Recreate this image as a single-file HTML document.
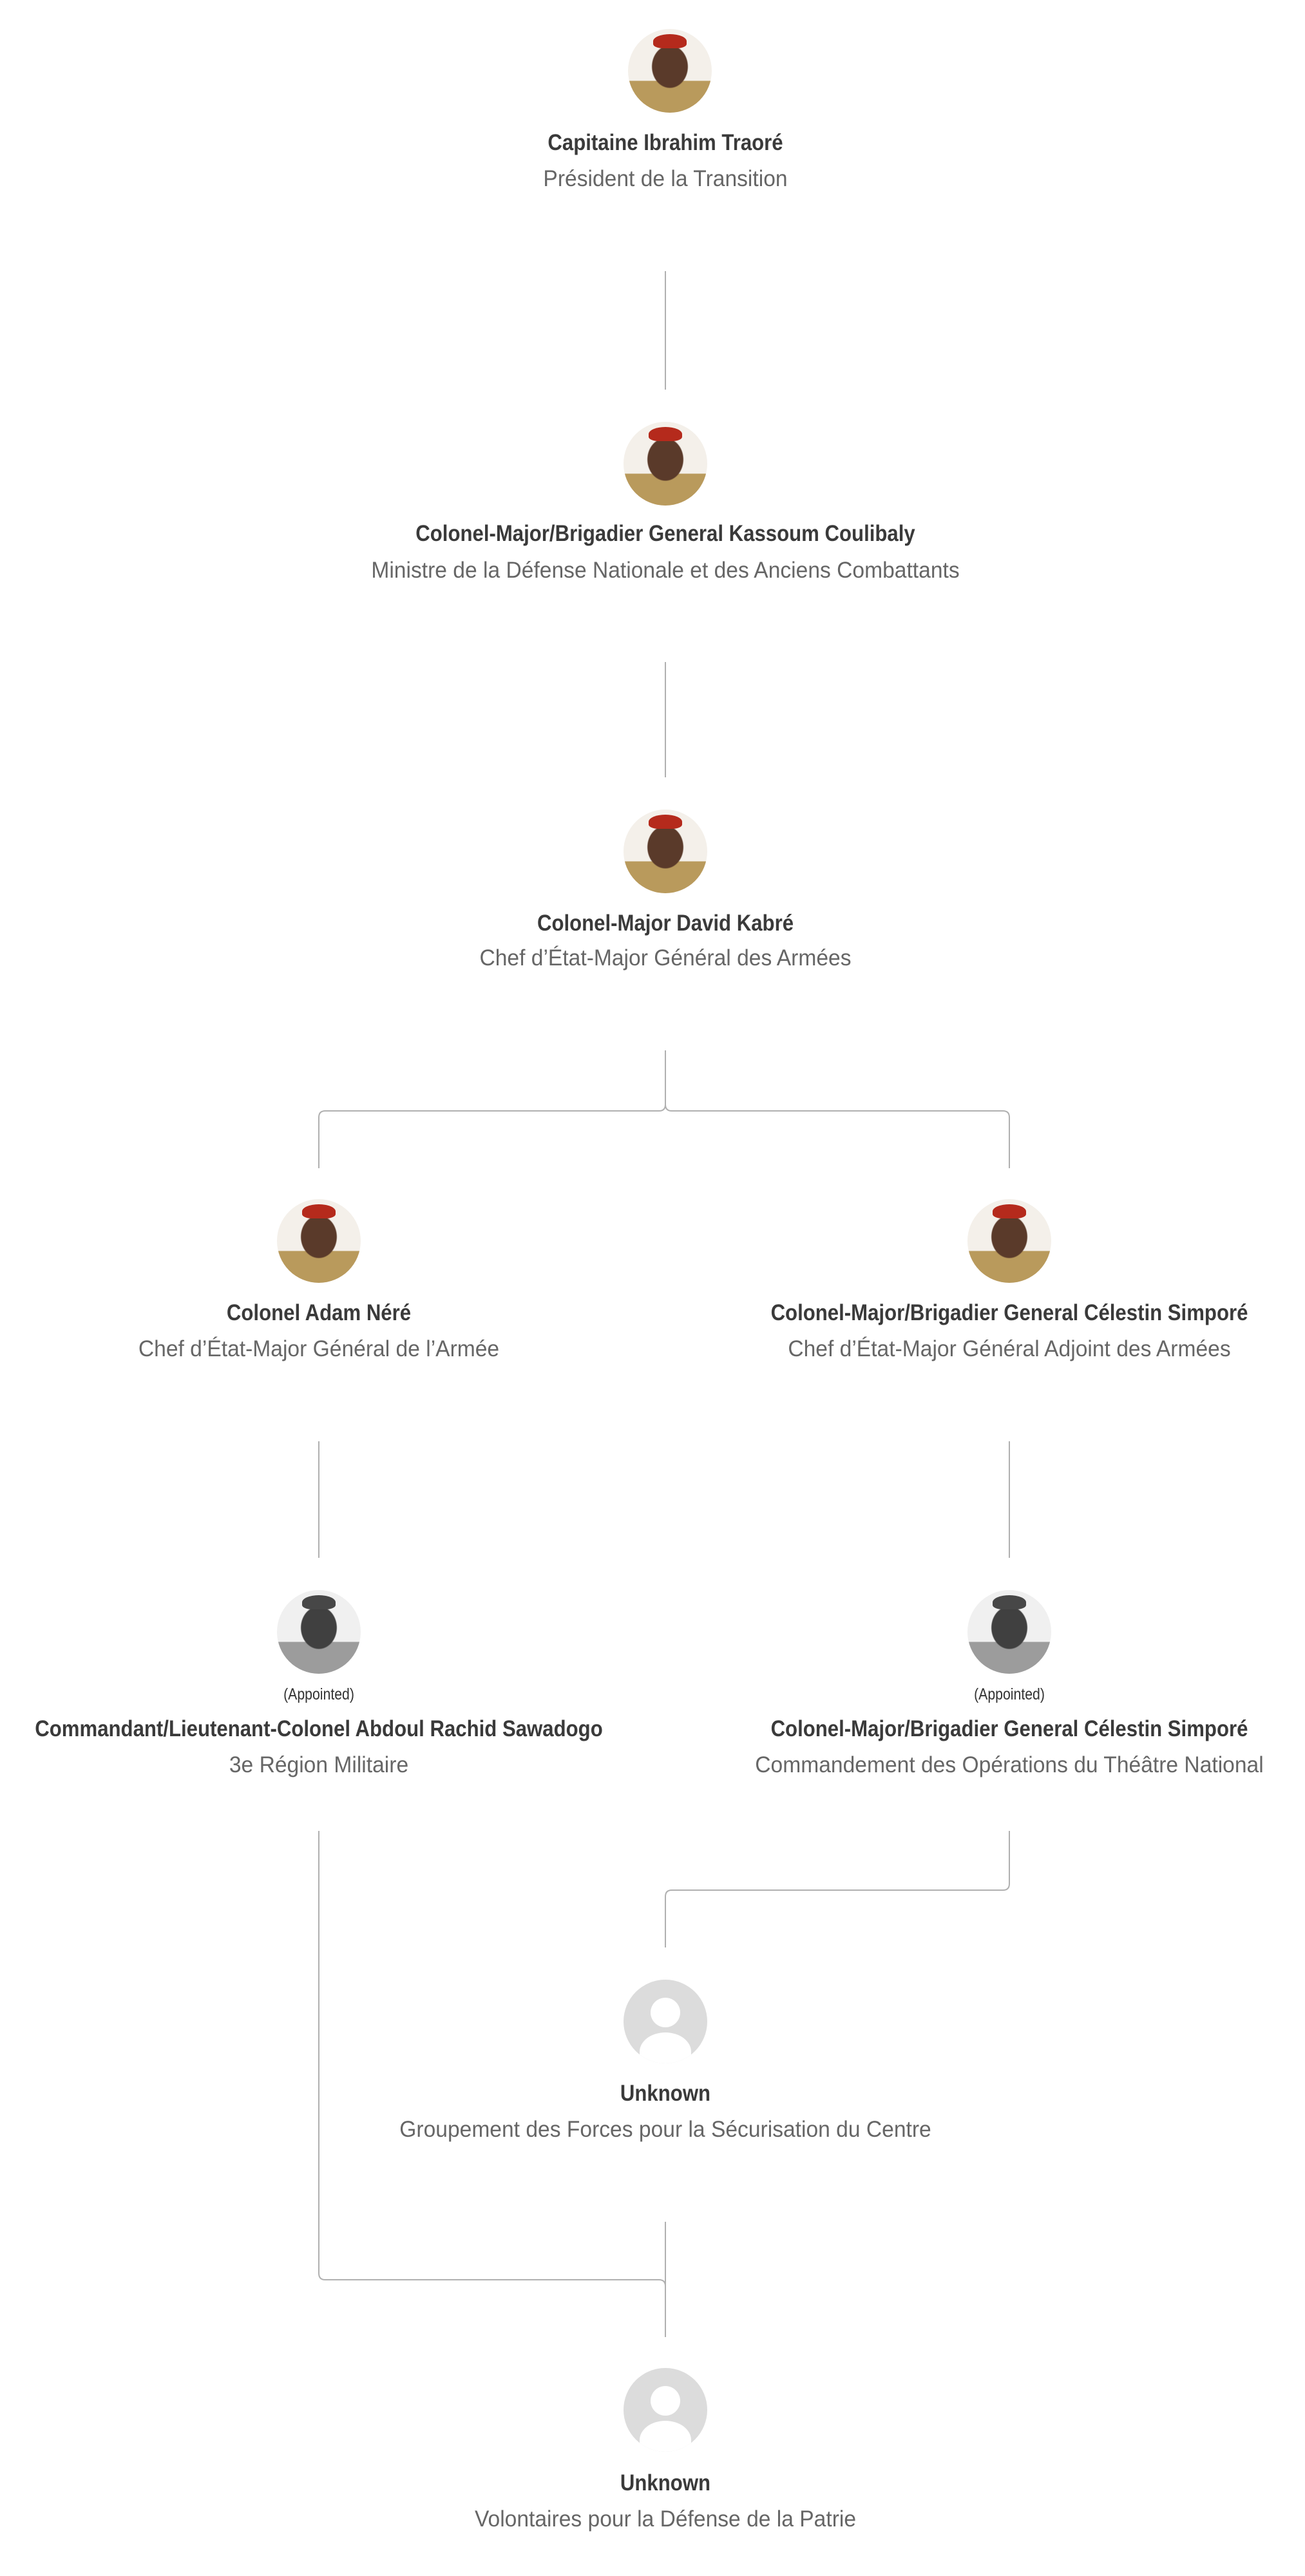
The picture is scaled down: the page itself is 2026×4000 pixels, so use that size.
<!DOCTYPE html>
<html><head><meta charset="utf-8"><style>
html,body{margin:0;padding:0;background:#fff;}
body{width:2026px;height:4000px;position:relative;overflow:hidden;font-family:"Liberation Sans Narrow","Liberation Sans",sans-serif;}
.n{position:absolute;width:1400px;margin-left:-700px;text-align:center;top:0;}
.nm{position:absolute;left:0;right:0;font-weight:bold;color:#3a3a3a;font-size:35px;line-height:40px;margin-top:-20px;transform:scaleX(0.89);}
.sb{position:absolute;left:0;right:0;color:#666;font-size:35px;line-height:40px;margin-top:-20px;transform:scaleX(0.96);}
.ap{position:absolute;left:0;right:0;color:#333;font-size:25px;line-height:30px;margin-top:-15px;transform:scaleX(0.85);}
.av{position:absolute;width:130px;height:130px;border-radius:50%;margin-left:-65px;margin-top:-65px;overflow:hidden;}
.ph{background:radial-gradient(ellipse 22% 26% at 50% 45%,#5a3a2a 0 95%,transparent 100%),linear-gradient(#f4f0ea 0 62%,#b99a5c 62% 100%);}
.ph::before{content:"";position:absolute;left:30%;top:6%;width:40%;height:17%;border-radius:50% 50% 30% 30%;background:#b52a1c;}
.gr{filter:grayscale(1);}
.unk{background:#dcdcdc;}
.unk::before{content:"";position:absolute;left:42px;top:28px;width:46px;height:46px;border-radius:50%;background:#fff;}
.unk::after{content:"";position:absolute;left:25px;top:82px;width:80px;height:60px;border-radius:50% 50% 0 0;background:#fff;}
</style></head><body>
<svg width="2026" height="4000" style="position:absolute;left:0;top:0" fill="none" stroke="#b0b0b0" stroke-width="2">
<path d="M1033 421V605"/>
<path d="M1033 1028V1207"/>
<path d="M1033 1631V1715q0 10-10 10H505q-10 0-10 10V1814"/>
<path d="M1033 1715q0 10 10 10H1557q10 0 10 10V1814"/>
<path d="M495 2238V2419"/>
<path d="M1567 2238V2419"/>
<path d="M1567 2843V2925q0 10-10 10H1043q-10 0-10 10V3024"/>
<path d="M495 2843V3530q0 10 10 10H1023q10 0 10 10"/>
<path d="M1033 3450V3629"/>
</svg>

<div class="av ph" style="left:1040px;top:110px"></div>
<div class="n" style="left:1033px"><div class="nm" style="top:222px">Capitaine Ibrahim Traoré</div><div class="sb" style="top:278px">Président de la Transition</div></div>

<div class="av ph" style="left:1033px;top:720px"></div>
<div class="n" style="left:1033px"><div class="nm" style="top:829px">Colonel-Major/Brigadier General Kassoum Coulibaly</div><div class="sb" style="top:886px">Ministre de la Défense Nationale et des Anciens Combattants</div></div>

<div class="av ph" style="left:1033px;top:1322px"></div>
<div class="n" style="left:1033px"><div class="nm" style="top:1434px">Colonel-Major David Kabré</div><div class="sb" style="top:1488px">Chef d’État-Major Général des Armées</div></div>

<div class="av ph" style="left:495px;top:1927px"></div>
<div class="n" style="left:495px"><div class="nm" style="top:2039px">Colonel Adam Néré</div><div class="sb" style="top:2095px">Chef d’État-Major Général de l’Armée</div></div>

<div class="av ph" style="left:1567px;top:1927px"></div>
<div class="n" style="left:1567px"><div class="nm" style="top:2039px">Colonel-Major/Brigadier General Célestin Simporé</div><div class="sb" style="top:2095px">Chef d’État-Major Général Adjoint des Armées</div></div>

<div class="av ph gr" style="left:495px;top:2534px"></div>
<div class="n" style="left:495px"><div class="ap" style="top:2631px">(Appointed)</div><div class="nm" style="top:2685px">Commandant/Lieutenant-Colonel Abdoul Rachid Sawadogo</div><div class="sb" style="top:2741px">3e Région Militaire</div></div>

<div class="av ph gr" style="left:1567px;top:2534px"></div>
<div class="n" style="left:1567px"><div class="ap" style="top:2631px">(Appointed)</div><div class="nm" style="top:2685px">Colonel-Major/Brigadier General Célestin Simporé</div><div class="sb" style="top:2741px">Commandement des Opérations du Théâtre National</div></div>

<div class="av unk" style="left:1033px;top:3139px"></div>
<div class="n" style="left:1033px"><div class="nm" style="top:3251px">Unknown</div><div class="sb" style="top:3307px">Groupement des Forces pour la Sécurisation du Centre</div></div>

<div class="av unk" style="left:1033px;top:3742px"></div>
<div class="n" style="left:1033px"><div class="nm" style="top:3856px">Unknown</div><div class="sb" style="top:3912px">Volontaires pour la Défense de la Patrie</div></div>
</body></html>
